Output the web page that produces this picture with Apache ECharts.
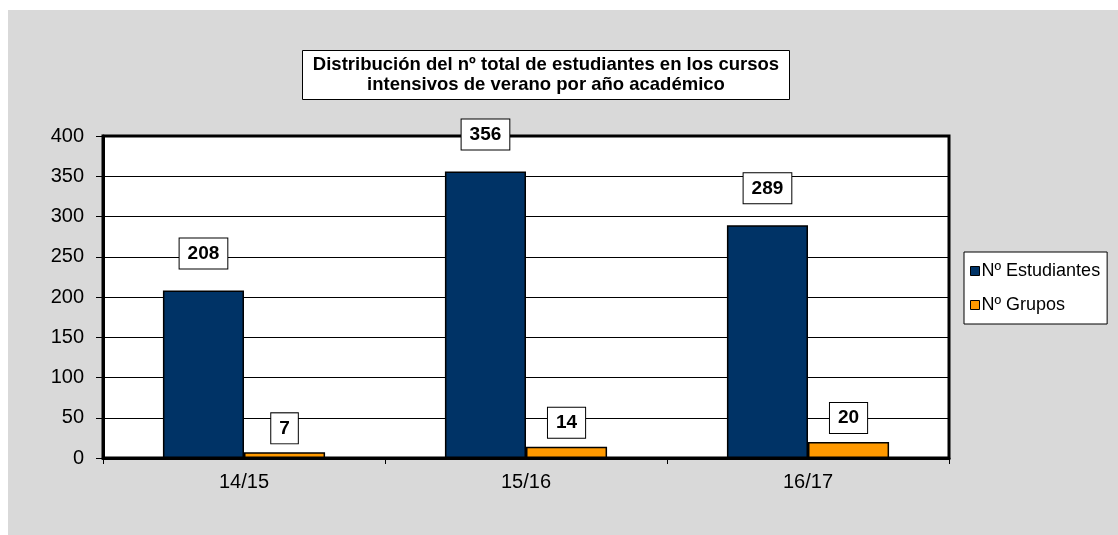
<!DOCTYPE html>
<html>
<head>
<meta charset="utf-8">
<script src="https://cdn.jsdelivr.net/npm/echarts@6/dist/echarts.min.js"></script>
<style>
  html, body { margin: 0; padding: 0; background: #ffffff; }
  #chart { position: absolute; left: 8px; top: 10px; width: 1110px; height: 525px; background: #d9d9d9; }
</style>
</head>
<body>
<div id="chart"></div>
<script>
// Academic years and totals per summer intensive course edition
const years = ['14/15', '15/16', '16/17'];
const students = [208, 356, 289];
const groups = [7, 14, 20];
const seriesNames = ['Nº Estudiantes', 'Nº Grupos'];
const chartTitle = 'Distribución del nº total de estudiantes en los cursos\nintensivos de verano por año académico';

const font = '"Liberation Sans", Arial, sans-serif';

const boxLabel = (distance) => ({
  show: true,
  position: 'top',
  distance: distance,
  color: '#000',
  fontFamily: font,
  fontSize: 19,
  lineHeight: 20,
  fontWeight: 'bold',
  backgroundColor: '#fff',
  borderColor: '#000',
  borderWidth: 1,
  padding: [5, 8, 5, 8]
});

const chart = echarts.init(document.getElementById('chart'), null, { renderer: 'canvas' });
chart.setOption({
  animation: false,
  title: {
    text: chartTitle,
    left: 527,
    top: 40,
    textAlign: 'center',
    backgroundColor: '#fff',
    borderColor: '#000',
    borderWidth: 1,
    padding: [5, 11, 5, 11],
    textStyle: {
      fontFamily: font,
      fontSize: 18.5,
      fontWeight: 'bold',
      color: '#000',
      lineHeight: 20
    }
  },
  legend: {
    orient: 'vertical',
    left: 956,
    top: 242,
    backgroundColor: '#fff',
    borderColor: '#000',
    borderWidth: 1,
    padding: [10, 7, 10, 6],
    itemWidth: 9,
    itemHeight: 9,
    itemGap: 16,
    icon: 'rect',
    itemStyle: { borderColor: '#000', borderWidth: 1 },
    textStyle: { fontFamily: font, fontSize: 18, color: '#000', padding: [0, 0, 0, -3] },
    data: seriesNames
  },
  grid: {
    left: 95,
    right: 169,
    top: 126,
    bottom: 77,
    show: true,
    backgroundColor: '#fff',
    borderColor: '#000',
    borderWidth: 3
  },
  xAxis: {
    type: 'category',
    data: years,
    axisLine: { show: true, lineStyle: { color: '#000', width: 3 } },
    axisTick: { show: true, alignWithLabel: false, length: 6, lineStyle: { color: '#000', width: 1 } },
    axisLabel: { fontFamily: font, fontSize: 20, color: '#000', margin: 14 }
  },
  yAxis: {
    type: 'value',
    min: 0,
    max: 400,
    interval: 50,
    axisLine: { show: true, lineStyle: { color: '#000', width: 3 } },
    axisTick: { show: true, length: 7, lineStyle: { color: '#000', width: 1 } },
    axisLabel: { fontFamily: font, fontSize: 20, color: '#000', margin: 19 },
    splitLine: { show: true, lineStyle: { color: '#000', width: 1 } }
  },
  series: [
    {
      name: seriesNames[0],
      type: 'bar',
      data: students,
      barGap: '0%',
      barCategoryGap: '42.5%',
      itemStyle: { color: '#003366', borderColor: '#000', borderWidth: 1.5 },
      label: boxLabel(22)
    },
    {
      name: seriesNames[1],
      type: 'bar',
      data: groups,
      itemStyle: { color: '#ff9900', borderColor: '#000', borderWidth: 1.5 },
      label: boxLabel(9)
    }
  ]
});
</script>
</body>
</html>
